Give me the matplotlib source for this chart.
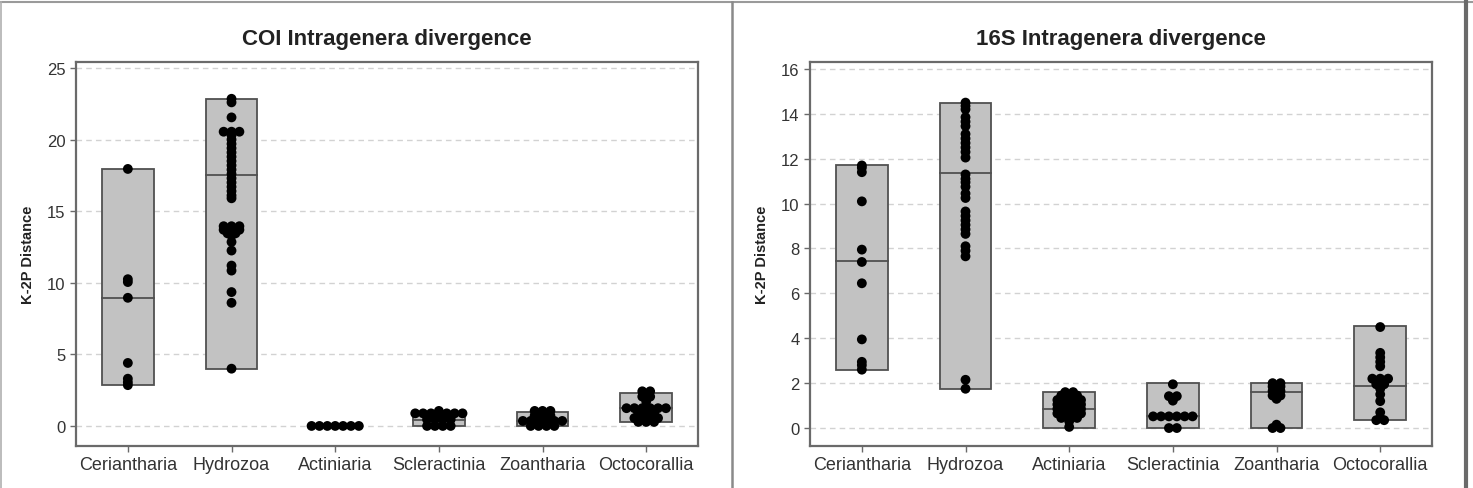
import numpy as np
import matplotlib
matplotlib.use('Agg')
import matplotlib.pyplot as plt
from matplotlib.lines import Line2D
from matplotlib.patches import Rectangle

plt.rcParams['font.family'] = ['Liberation Sans', 'DejaVu Sans']

# Colours
BOX_FILL = '#c2c2c2'
BOX_EDGE = '#505050'
SPINE_COLOUR = '#6a6a6a'
GRID_COLOUR = '#d2d2d2'
TEXT_COLOUR = '#333333'
DOT_STEP = 0.076   # horizontal spacing for tied values (category units)

groups = ['Ceriantharia', 'Hydrozoa', 'Actiniaria', 'Scleractinia', 'Zoantharia', 'Octocorallia']

# COI intragenera K-2P distances
coi_ceriantharia = [17.95, 10.25, 10.05, 8.95, 4.4, 3.3, 3.05, 2.85]
coi_hydrozoa = [22.85, 22.6, 21.55, 20.55, 20.55, 20.55, 20.3, 20.0, 19.7, 19.4, 19.1,
                18.8, 18.5, 18.2, 17.9, 17.6, 17.3, 17.0, 16.7, 16.4, 16.1, 15.9,
                13.95, 13.95, 13.95, 13.7, 13.7, 13.7, 13.45, 13.45, 13.3, 12.85,
                12.25, 11.2, 10.85, 9.35, 8.6, 4.0]
coi_actiniaria = [0.0, 0.0, 0.0, 0.0, 0.0, 0.0, 0.0]
coi_scleractinia = [1.05, 0.88, 0.88, 0.88, 0.88, 0.88, 0.88, 0.88,
                    0.45, 0.45, 0.45, 0.45, 0.0, 0.0, 0.0, 0.0]
coi_zoantharia = [1.05, 1.05, 1.05, 0.72, 0.72, 0.72, 0.35, 0.35, 0.35, 0.35, 0.35, 0.35,
                  0.0, 0.0, 0.0, 0.0]
coi_octocorallia = [2.42, 2.42, 2.05, 2.05, 1.72, 1.24, 1.24, 1.24, 1.24, 1.24, 1.24,
                    0.85, 0.85, 0.85, 0.55, 0.55, 0.55, 0.55, 0.28, 0.28, 0.28]
coi_points = [coi_ceriantharia, coi_hydrozoa, coi_actiniaria,
              coi_scleractinia, coi_zoantharia, coi_octocorallia]
coi_box_low = [2.85, 4.0, 0.0, 0.0, 0.0, 0.26]
coi_box_mid = [8.95, 17.5, 0.0, 0.45, 0.35, 1.24]
coi_box_high = [17.95, 22.85, 0.05, 0.95, 0.98, 2.3]

# 16S intragenera K-2P distances
s16_ceriantharia = [11.7, 11.6, 11.4, 10.1, 7.95, 7.4, 6.45, 3.95, 2.95, 2.8, 2.6]
s16_hydrozoa = [14.5, 14.35, 14.2, 13.85, 13.65, 13.45, 13.1, 12.9, 12.7, 12.5, 12.3,
                12.05, 11.3, 11.1, 10.95, 10.75, 10.45, 10.25, 9.65, 9.45, 9.25, 9.05,
                8.85, 8.65, 8.1, 7.9, 7.65, 2.15, 1.75]
s16_actiniaria = [1.6, 1.6, 1.45, 1.45, 1.45, 1.25, 1.25, 1.25, 1.25, 1.05, 1.05, 1.05, 1.05,
                  0.85, 0.85, 0.85, 0.85, 0.65, 0.65, 0.65, 0.65, 0.45, 0.45, 0.45, 0.3, 0.05]
s16_scleractinia = [1.95, 1.42, 1.42, 1.22, 0.52, 0.52, 0.52, 0.52, 0.52, 0.52, 0.0, 0.0]
s16_zoantharia = [2.0, 2.0, 1.85, 1.85, 1.65, 1.65, 1.45, 1.45, 1.3, 0.15, 0.0, 0.0]
s16_octocorallia = [4.5, 3.35, 3.15, 2.95, 2.75, 2.2, 2.2, 2.2, 1.95, 1.95, 1.75, 1.5,
                    1.2, 0.7, 0.45, 0.35, 0.35]
s16_points = [s16_ceriantharia, s16_hydrozoa, s16_actiniaria,
              s16_scleractinia, s16_zoantharia, s16_octocorallia]
s16_box_low = [2.6, 1.75, 0.0, 0.0, 0.0, 0.36]
s16_box_mid = [7.45, 11.35, 0.85, 0.52, 1.59, 1.86]
s16_box_high = [11.7, 14.5, 1.59, 1.99, 1.99, 4.53]


def spread_ties(vals):
    """Spread identical values side by side, centred on the category."""
    vals = np.asarray(vals, dtype=float)
    offsets = np.zeros(len(vals))
    for v in np.unique(vals):
        idx = np.where(vals == v)[0]
        n = len(idx)
        offsets[idx] = (np.arange(n) - (n - 1) / 2.0) * DOT_STEP
    return offsets


def draw_panel(ax, title, points, lows, mids, highs, ylim, yticks):
    for i, (pts, lo, md, hi) in enumerate(zip(points, lows, mids, highs)):
        ax.add_patch(Rectangle((i - 0.25, lo), 0.5, hi - lo, facecolor=BOX_FILL,
                               edgecolor=BOX_EDGE, linewidth=1.3, zorder=2))
        ax.plot([i - 0.25, i + 0.25], [md, md], color=BOX_EDGE, linewidth=1.3, zorder=3)
        xs = i + spread_ties(pts)
        ax.scatter(xs, pts, s=50, color='black', edgecolors='none', zorder=4)

    ax.set_xlim(-0.5, 5.5)
    ax.set_ylim(*ylim)
    ax.set_xticks(range(len(groups)))
    ax.set_xticklabels(groups, fontsize=13, color=TEXT_COLOUR)
    ax.set_yticks(yticks)
    ax.tick_params(axis='y', labelsize=12, labelcolor=TEXT_COLOUR, color=SPINE_COLOUR,
                   length=4, width=1)
    ax.tick_params(axis='x', color=SPINE_COLOUR, length=4, width=1, pad=3)
    ax.yaxis.grid(True, linestyle=(0, (4, 3)), color=GRID_COLOUR, linewidth=1, zorder=0)
    ax.set_axisbelow(True)
    for sp in ax.spines.values():
        sp.set_color(SPINE_COLOUR)
        sp.set_linewidth(1.6)
    ax.set_ylabel('K-2P Distance', fontsize=10.5, fontweight='bold', color='#222222')
    ax.yaxis.set_label_coords(-0.066, 0.5)
    ax.set_title(title, fontsize=16, fontweight='bold', color='#222222', pad=13)


fig = plt.figure(figsize=(14.73, 4.89), dpi=100)
ax1 = fig.add_axes([0.0516, 0.0859, 0.4223, 0.7853])
ax2 = fig.add_axes([0.5499, 0.0859, 0.4223, 0.7853])

draw_panel(ax1, 'COI Intragenera divergence', coi_points, coi_box_low, coi_box_mid,
           coi_box_high, (-1.4, 25.42), [0, 5, 10, 15, 20, 25])
draw_panel(ax2, '16S Intragenera divergence', s16_points, s16_box_low, s16_box_mid,
           s16_box_high, (-0.8, 16.31), [0, 2, 4, 6, 8, 10, 12, 14, 16])

# Outer frame and divider between the two panels
W, H = 1473.0, 489.0
fig.add_artist(Line2D([0, 1], [1 - 3 / H, 1 - 3 / H], color='#9a9a9a', linewidth=1.5))
fig.add_artist(Line2D([1 / W, 1 / W], [0, 1 - 3 / H], color='#b0b0b0', linewidth=1.2))
fig.add_artist(Line2D([732 / W, 732 / W], [0, 1 - 3 / H], color='#8a8a8a', linewidth=1.8))
fig.add_artist(Line2D([1466 / W, 1466 / W], [0, 1 - 3 / H], color='#6a6a6a', linewidth=3))

plt.savefig('out.png', dpi=100, facecolor='white')
plt.close(fig)
